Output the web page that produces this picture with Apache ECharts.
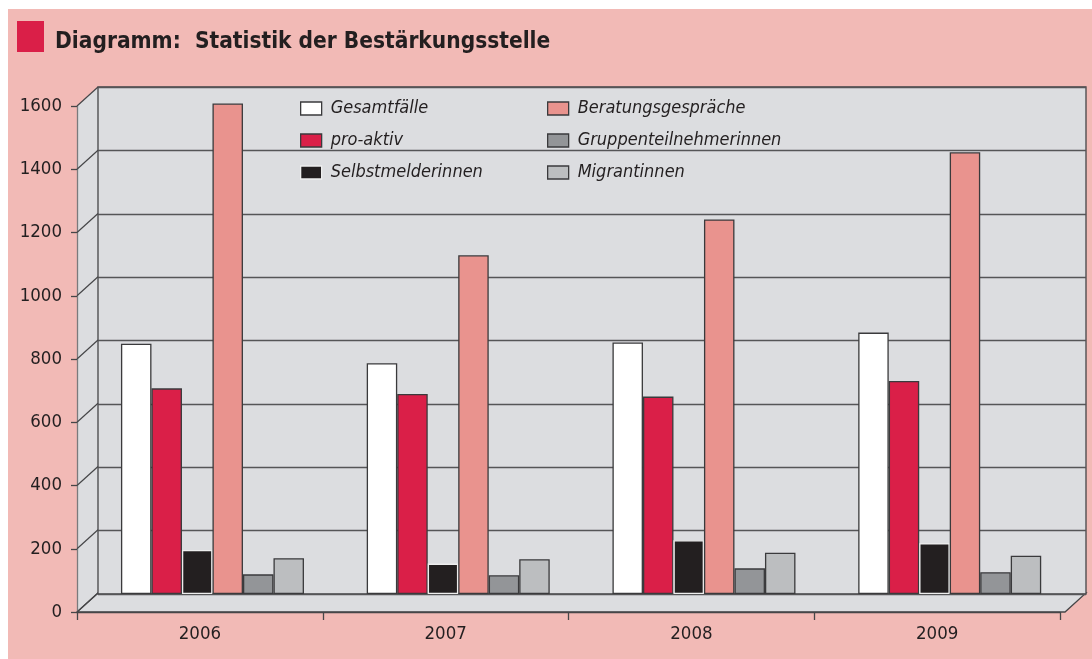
<!DOCTYPE html>
<html>
<head>
<meta charset="utf-8">
<script src="https://cdn.jsdelivr.net/npm/echarts@6/dist/echarts.min.js"></script>
<style>
  html, body { margin: 0; padding: 0; background: #ffffff; }
  #wrap { position: relative; width: 1092px; height: 659px; background: #ffffff; overflow: hidden; }
  #pink { position: absolute; left: 8px; top: 9px; right: 0; bottom: 0; background: #f2bab6; }
  #chart { position: absolute; left: 0; top: 0; width: 1092px; height: 659px; }
</style>
</head>
<body>
<div id="wrap"><div id="pink"></div><div id="chart"></div></div>
<script>
// ---- data ----
const years = ['2006', '2007', '2008', '2009'];
const gesamtfaelle = [790, 728, 794, 825];
const proAktiv = [649, 631, 623, 672];
const selbstmelderinnen = [139, 96, 170, 160];
const beratungsgespraeche = [1548, 1069, 1182, 1394];
const gruppenteilnehmerinnen = [62, 59, 81, 69];
const migrantinnen = [113, 110, 130, 121];
const yTickValues = [0, 200, 400, 600, 800, 1000, 1200, 1400, 1600];
const titleText = 'Diagramm:  Statistik der Bestärkungsstelle';

// ---- layout ----
const FONT = '"Liberation Sans Narrow", "DejaVu Sans Condensed", "Liberation Sans", sans-serif';
const TXT = '#231f20';
const WALL = '#dcdde0';
const EDGE = '#464648';
const FRONT = { left: 77, top: 106, width: 983, height: 506 };
const BACK = { left: 98, top: 87, width: 988, height: 507 };
const BARS = { left: 89.6, top: 87, width: 983, height: 507 };
const DX = BACK.left - FRONT.left;
const DY = BACK.top - FRONT.top;
const Y_MIN = yTickValues[0], Y_MAX = yTickValues[yTickValues.length - 1], Y_INT = yTickValues[1] - yTickValues[0];

const seriesDefs = [
  { name: 'Gesamtfälle', data: gesamtfaelle, color: '#ffffff', border: '#3a3a3c' },
  { name: 'pro-aktiv', data: proAktiv, color: '#da1f48', border: '#3a3a3c' },
  { name: 'Selbstmelderinnen', data: selbstmelderinnen, color: '#231f20', border: '#eeeeee' },
  { name: 'Beratungsgespräche', data: beratungsgespraeche, color: '#e9938e', border: '#3a3a3c' },
  { name: 'Gruppenteilnehmerinnen', data: gruppenteilnehmerinnen, color: '#939598', border: '#3a3a3c' },
  { name: 'Migrantinnen', data: migrantinnen, color: '#bcbec0', border: '#3a3a3c' }
];

const chart = echarts.init(document.getElementById('chart'), null, { renderer: 'canvas' });

const barSeries = seriesDefs.map(s => ({
  name: s.name,
  type: 'bar',
  xAxisIndex: 2,
  yAxisIndex: 2,
  data: s.data,
  barWidth: 30.5,
  barGap: '0%',
  itemStyle: { color: s.color, borderColor: s.border, borderWidth: 1.3 },
  emphasis: { disabled: true },
  z: 3
}));

const legendCommon = {
  orient: 'vertical',
  icon: 'rect',
  itemWidth: 21,
  itemHeight: 13,
  itemGap: 13,
  selectedMode: false,
  textStyle: { fontFamily: FONT, fontSize: 18, fontStyle: 'italic', color: TXT, lineHeight: 19, padding: [0, 0, 0, 4] },
  itemStyle: { borderWidth: 1.3 }
};

chart.setOption({
  backgroundColor: 'transparent',
  animation: false,
  graphic: [
    { type: 'rect', shape: { x: 17, y: 21, width: 27, height: 31 }, style: { fill: '#da1f48' } },
    { type: 'text', x: 55, y: 42, style: { text: titleText, fontFamily: FONT, fontSize: 22.5, fontWeight: 'bold', fill: TXT, verticalAlign: 'middle' } }
  ],
  legend: [
    Object.assign({}, legendCommon, { left: 295, top: 94, data: ['Gesamtfälle', 'pro-aktiv', 'Selbstmelderinnen'] }),
    Object.assign({}, legendCommon, { left: 542, top: 94, data: ['Beratungsgespräche', 'Gruppenteilnehmerinnen', 'Migrantinnen'] })
  ],
  grid: [
    Object.assign({ show: false }, FRONT),
    Object.assign({ show: true, backgroundColor: WALL, borderColor: EDGE, borderWidth: 1.3 }, BACK),
    Object.assign({ show: false }, BARS)
  ],
  xAxis: [
    {
      gridIndex: 0, type: 'category', data: years, boundaryGap: true,
      axisLine: { show: true, lineStyle: { color: EDGE, width: 1.3 } },
      axisTick: { show: true, interval: 0, length: 8, inside: false, lineStyle: { color: EDGE, width: 1.3 } },
      axisLabel: { fontFamily: FONT, fontSize: 18.5, color: TXT, margin: 13 },
      splitLine: { show: false }
    },
    { gridIndex: 1, type: 'category', data: years, show: false },
    { gridIndex: 2, type: 'category', data: years, show: false }
  ],
  yAxis: [
    {
      gridIndex: 0, type: 'value', min: Y_MIN, max: Y_MAX, interval: Y_INT,
      axisLine: { show: true, lineStyle: { color: '#7a7a7c', width: 1.3 } },
      axisTick: { show: true, length: 6, lineStyle: { color: EDGE, width: 1.3 } },
      axisLabel: { fontFamily: FONT, fontSize: 18.5, color: TXT, margin: 15, formatter: v => String(v) },
      splitLine: { show: false }
    },
    {
      gridIndex: 1, type: 'value', min: Y_MIN, max: Y_MAX, interval: Y_INT,
      axisLine: { show: false }, axisTick: { show: false }, axisLabel: { show: false },
      splitLine: { show: true, lineStyle: { color: '#555557', width: 1.3 } }
    },
    { gridIndex: 2, type: 'value', min: Y_MIN, max: Y_MAX, interval: Y_INT, show: false, splitLine: { show: false } }
  ],
  series: [
    {
      type: 'custom', name: 'sideFloor', xAxisIndex: 0, yAxisIndex: 0, z: -1, silent: true,
      data: [[0, Y_MIN]],
      encode: { x: 0, y: 1 },
      renderItem: function (params, api) {
        const cs = params.coordSys;
        const yTop = api.coord([0, Y_MAX])[1];
        const yBot = api.coord([0, Y_MIN])[1];
        const x0 = cs.x;
        return {
          type: 'group',
          children: [
            { type: 'polygon', shape: { points: [[x0, yTop], [x0 + DX, yTop + DY], [x0 + DX, yBot + DY], [x0, yBot]] }, style: { fill: WALL, stroke: null } },
            { type: 'polygon', shape: { points: [[x0, yBot], [x0 + BACK.width, yBot], [x0 + BACK.width + DX, yBot + DY], [x0 + DX, yBot + DY]] }, style: { fill: WALL, stroke: EDGE, lineWidth: 1.3 } }
          ]
        };
      }
    },
    {
      type: 'custom', name: 'sideGrid', xAxisIndex: 0, yAxisIndex: 0, z: 1, silent: true,
      data: yTickValues.map(v => [0, v]),
      encode: { x: 0, y: 1 },
      renderItem: function (params, api) {
        const cs = params.coordSys;
        const y = api.coord([0, api.value(1)])[1];
        return { type: 'line', shape: { x1: cs.x, y1: y, x2: cs.x + DX, y2: y + DY }, style: { stroke: EDGE, lineWidth: 1.2 } };
      }
    }
  ].concat(barSeries)
});
</script>
</body>
</html>
